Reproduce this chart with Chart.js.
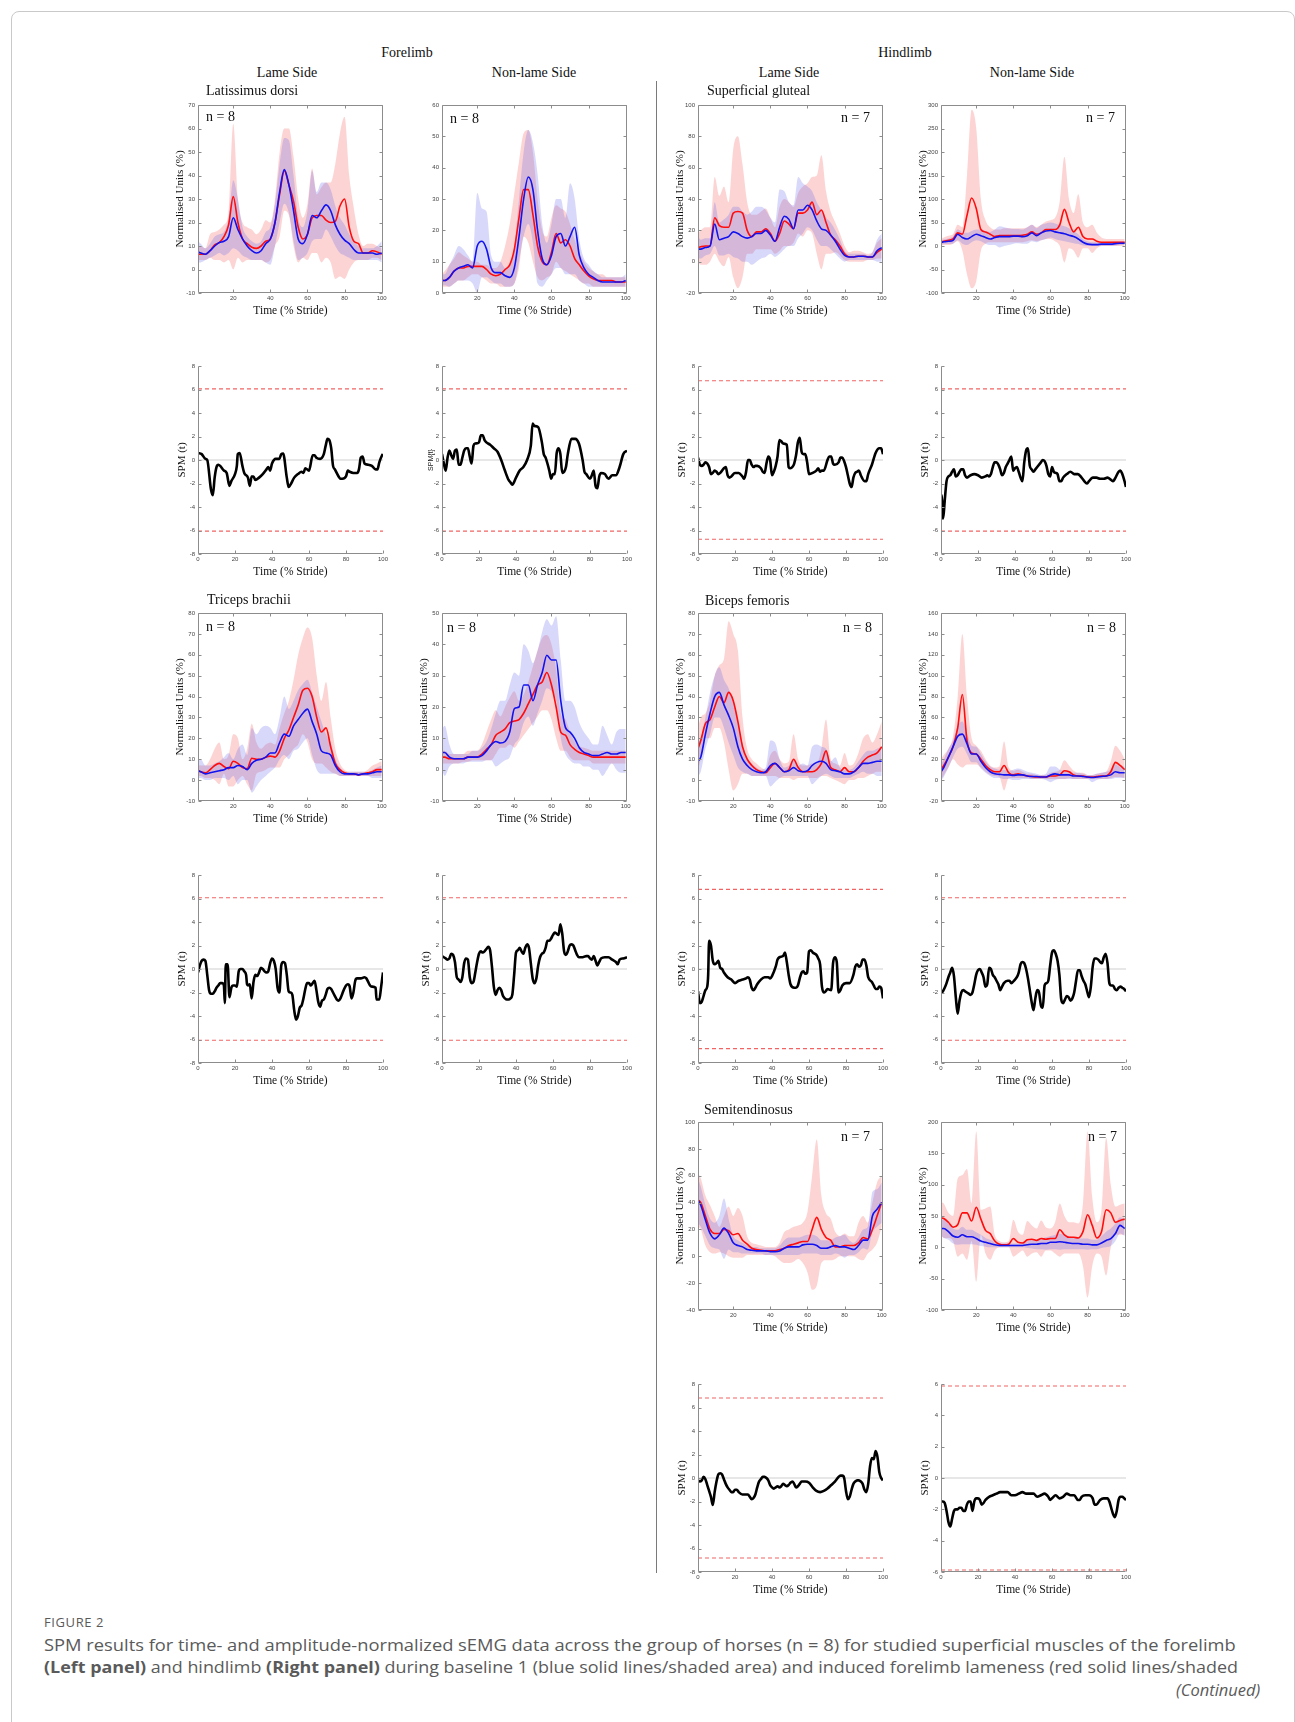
<!DOCTYPE html>
<html>
<head>
<meta charset="utf-8">
<script src="https://cdn.jsdelivr.net/npm/chart.js@4.4.0/dist/chart.umd.min.js"></script>
<style>
body { margin: 0; background: #fff; width: 1295px; height: 1722px; position: relative; overflow: hidden; }
.frame { position: absolute; left: 11px; top: 11px; width: 1282px; height: 1760px; border: 1px solid #c9c9c9; border-radius: 8px; }
canvas { position: absolute; }
.t { position: absolute; white-space: nowrap; font-family: "Liberation Serif", serif; color: #111; font-size: 14px; line-height: 1; }
.divider { position: absolute; left: 656px; top: 81px; width: 1px; height: 1492px; background: #7a7a7a; }
.cap { position: absolute; left: 44px; white-space: nowrap; font-family: "Open Sans", sans-serif; color: #5a5a5a; font-size: 16.5px; line-height: 1; transform-origin: 0 50%; }
</style>
</head>
<body>
<div class="frame"></div>
<div class="divider"></div>
<script>
// shared time axis (% stride) for the sEMG curves
const emgX = [1, 2.5, 5, 7.5, 10, 12.5, 15, 17.5, 20, 22.5, 25, 27.5, 30, 32.5, 35, 37.5, 40, 42.5, 45, 47.5,
  50, 52.5, 55, 57.5, 60, 62.5, 65, 67.5, 70, 72.5, 75, 77.5, 80, 82.5, 85, 87.5, 90, 92.5, 95, 97.5, 100];
const emgXTicks = [20, 40, 60, 80, 100];
const spmXTicks = [0, 20, 40, 60, 80, 100];

// Latissimus dorsi - lame side
const latLameBlue = [7.5,7,6.5,8,10,11.5,12,14,22,17, 13,10,8,7,8,11,13,20,33,42.5, 36,25,13,11,15,23,22,25,27.5,25, 19,15,12.5,11,8.5,7,7,7,7,6.5, 7];
const latLameRed = [6.5,6.5,6.5,8,10.5,11.5,14,19,31,20, 13,11,9.5,9,10,12,13,20,32,42, 36,29,18,13,15,22,23,23,21,20, 20.5,27,30,18,12,11,7,7,8,7.5, 6.5];
const latLameBlueHi = [12,11,9,11,14,15,16,22,38,30, 18,14,12,11,12,16,18,28,45,56, 55,40,22,18,25,42,33,37,37,34, 27,22,19,15,12,10,9,9,9,10, 12];
const latLameBlueLo = [3,3,4,5,6,7,6,7,9,8, 6,5,4,4,4,3,2,10,20,28, 24,12,4,5,7,12,13,13,17,14, 10,7,6,5,4,4,4,4,4,4, 3];
const latLameRedHi = [10,10,9,15,16,17,19,24,62,30, 20,18,17,15,17,21,20,30,50,60, 60,48,30,22,28,43,32,35,37,37, 45,58,65,40,26,15,10,11,11,10, 9];
const latLameRedLo = [4,4,4,5,4,4,3,4,0,5, 3,4,4,4,4,3,4,10,14,25, 23,10,3,5,4,7,7,3,5,3, -4,-3,-4,0,3,4,4,4,5,5, 4];

// Latissimus dorsi - non-lame side
const latNonBlue = [4,4,5,7,8,8.5,9,8,15,16.5, 14,8,6.5,6.5,5.5,5,8,18,30,37, 33,20,11,9,12,18,19,15,18,21, 12,8,6,5,4,3.5,3.5,3.5,3.5,3.5, 4];
const latNonRed = [4,4,5,7,8,8,8.5,8.5,8.5,8.5, 7.5,6,5.5,6,7.5,9,14,24,33,33, 25,15,10,9,13,19,16,17,15,11, 9,7,5.5,4.5,4,4,4,4,3.5,3.5, 3.5];
const latNonBlueHi = [6,6,9,12,15,14,12,10,32,27, 26,12,10,10,8,9,15,30,45,52, 48,38,22,16,22,30,30,24,35,30, 17,11,9,7,6,5,5,5,5,5, 6];
const latNonBlueLo = [2.5,2.5,2,3,4,4,4,3,0,5, 5,4,3,3,2,2,3,10,18,22, 16,3,2,4,6,8,8,6,6,6, 4,3,2,2,2,2,2,2,2,2, 2];
const latNonRedHi = [6,7,9,11,13,12,11,10,10,9, 9,8,8,10,15,22,32,42,51,52, 45,30,20,18,24,28,27,26,22,17, 13,10,8,7,6,6,5,5,5,5, 5];
const latNonRedLo = [2,2,2,3,4,4,5,6,6,5, 4,3,3,2,2,2,3,8,18,16, 10,5,4,5,6,10,8,7,6,5, 4,3,3,2,2,2,2,2,2,2, 2];

// Superficial gluteal - lame side
const glutLameBlue = [8,8,9,10,24,14,15,16,19,18, 16,15,16,18,18,20,17,13,22,29, 27,21,33,33,36,33,26,21,20,17, 13,8,4,3,3,3.5,3.5,3,3,7, 9];
const glutLameRed = [9,9.5,10,10,28,23,22,22,31,32, 31,20,16,19,19,21,18,13,18,26, 24,21,31,31,33,38,30,33,25,17, 14,10,5,3,3,3.5,3.5,3,3,6, 8];
const glutLameBlueHi = [16,14,15,15,38,25,27,30,35,35, 32,30,32,35,35,33,28,25,46,45, 38,36,54,50,48,45,38,33,28,25, 20,14,7,5,5,5,5,4,6,14, 18];
const glutLameBlueLo = [2,2,4,5,10,4,4,5,3,2, 0,0,-2,0,2,3,5,3,5,8, 10,10,15,18,22,20,14,10,10,8, 5,2,0,1,1,1,1,1,1,0, 0];
const glutLameRedHi = [18,20,22,22,54,42,48,38,72,80, 62,38,30,30,32,34,28,22,35,40, 38,35,44,48,50,54,55,68,45,32, 25,18,10,6,7,7,6,5,6,12, 15];
const glutLameRedLo = [0,-2,-2,0,5,0,-3,3,-10,-17, -10,5,5,8,8,8,8,5,7,10, 10,12,18,16,20,18,5,-5,5,5, 6,4,1,0,0,0,0,1,1,2, 2];

// Superficial gluteal - non-lame side
const glutNonBlue = [7,9,10,12,25,18,15,20,25,22, 18,15,18,20,20,20,21,21,20,22, 28,22,28,32,33,30,28,26,23,20, 15,8,4,3,3,4,4,4,5,6, 6];
const glutNonRed = [8,10,12,15,28,25,65,102,80,35, 30,25,20,22,22,22,22,22,23,25, 30,25,28,35,35,35,45,78,50,30, 40,20,15,15,10,8,8,8,8,8, 8];
const glutNonBlueHi = [12,14,16,20,35,30,28,32,35,35, 32,30,35,42,40,38,36,36,35,40, 45,38,45,48,50,48,45,42,38,32, 25,15,10,8,8,8,9,9,10,10, 10];
const glutNonBlueLo = [2,4,4,5,12,5,2,8,12,10, 5,2,2,-3,0,2,5,6,5,5, 10,8,12,15,18,15,12,10,8,6, 4,1,0,0,0,0,0,0,1,2, 2];
const glutNonRedHi = [15,18,22,25,45,40,150,290,250,100, 55,40,35,35,38,38,38,38,38,40, 45,40,45,52,55,60,95,190,100,70, 110,50,40,45,28,18,15,15,15,15, 15];
const glutNonRedLo = [0,2,2,5,10,-10,-60,-90,-75,-10, 5,8,8,8,8,8,8,8,8,10, 12,10,12,15,15,10,0,-35,-5,-10, -25,-5,-5,-15,-5,0,0,0,0,0, 0];

// Triceps brachii - lame side
const triLameBlue = [4.5,4,3,3.5,4,4.5,5,6,6,7, 6.5,5,8,9.5,10,11,13,13,18,22, 21,26,29,32,34,28,22,14,13,12, 7,4,3,3,3,2.5,3,3,3.5,4, 4];
const triLameRed = [4.5,4,3.5,5,7,8,6.5,5.5,9,8, 6,5.5,10.5,10,10,11,11.5,11,14,20, 24,30,36,43,44,40,30,23,25,16, 8,5,3.5,3,3,2.5,3,3.5,4,5, 5];
const triLameBlueHi = [9,10,7,7,8,9,11,13,10,15, 17,12,25,22,25,26,25,22,30,40, 34,38,43,46,48,42,35,28,22,18, 10,6,4,4,4,4,4,4,5,6, 7];
const triLameBlueLo = [1,1,0,0,1,1,1,0,2,-2, 0,0,-6,-3,0,2,4,6,10,12, 10,14,15,18,20,12,5,3,3,3, 3,2,2,2,2,2,2,2,1,1, 1];
const triLameRedHi = [7,7,7,10,15,18,10,12,22,20, 10,15,27,18,15,17,18,17,25,32, 38,48,60,68,73,68,50,38,47,30, 15,8,5,4,4,4,4,5,7,8, 9];
const triLameRedLo = [2,2,1,1,0,-2,3,-3,-3,0, 2,-2,-5,3,4,5,6,6,6,10, 12,15,17,22,18,10,8,8,6,4, 3,2,2,2,2,2,2,2,2,2, 2];

// Triceps brachii - non-lame side
const triNonBlue = [5.5,5.5,4,3.5,3.5,3.5,4,4,4,4.5, 6,8,9,8.5,9,12,19.5,20,27,27, 22,27,31,36.5,35,35,22,13.5,12,10, 7,5.5,5,4.5,4.5,5,5.5,5,5,5.5, 5.5];
const triNonRed = [4,4,3.5,3.5,3.5,3.5,4,4,4,5, 6.5,8,11,12,13,15,15.5,16,18,21, 24,27,28,31,27,20,12,11,8,6.5, 5.5,5,4.5,4,4,4,4,4,4,4, 4];
const triNonBlueHi = [13,14,8,5,5,5,5,6,6,7, 9,13,18,22,22,27,31,30,40,38, 34,38,44,48,46,49,35,22,22,20, 15,12,10,8,8,14,11,8,12,13, 13];
const triNonBlueLo = [0,-2,1,2,2,2,2.5,2.5,2.5,2.5, 3,3,1,2,3,4,8,10,15,17, 14,18,22,26,25,22,10,5,3,2, 2,1,1,0,0,-2,0,2,0,-1, -1];
const triNonRedHi = [6,6,5,5,5,5,6,6,6,8, 12,16,19,17,20,23,25,22,24,28, 33,38,42,43,40,32,18,16,12,9, 7.5,7,6.5,6,6,6,6,6,6,6, 6];
const triNonRedLo = [2,2,2,2,2,2.5,2.5,3,3,3, 3,3,5,7,7,8,7,9,11,13, 15,17,19,19,16,10,6,6,4,3, 3,3,3,2,2,2,2,2,2,2, 2];

// Biceps femoris - lame side
const bicLameBlue = [9,11,22,32,40,42,36,31,25,16, 10,7,5,4,3.5,4,7,8,6,4, 4.5,6,4.5,4,4.5,7,8.5,9,8,5, 4.5,4,3,3,4,6,8,8,8.5,9, 9];
const bicLameRed = [15,19,27,29,35,40,37,42,38,28, 16,10,7,5,4,3.5,6,8,6,4, 5,10,6,4,4,4,5,8,14,6, 5,4,6,4,4,6,9,11,12,13, 16];
const bicLameBlueHi = [18,20,30,42,50,54,48,44,38,28, 17,11,8,6,5,6,19,18,10,6, 7,10,7,8,7,16,17,16,15,9, 11,6,5,5,6,9,12,14,14,15, 16];
const bicLameBlueLo = [2,4,15,22,30,30,25,18,12,6, 4,3,2,2,2,2,-3,-1,1,2, 2,2,2,2,2,-2,0,2,3,2, 1,1,1,1,2,3,4,3,3,2, 2];
const bicLameRedHi = [25,30,32,38,50,55,58,76,70,62, 30,15,10,8,6,5,12,14,10,8, 9,22,10,7,7,8,8,15,29,10, 8,7,13,7,8,13,20,22,18,22, 28];
const bicLameRedLo = [5,10,20,20,25,25,18,5,-5,-2, 3,3,2,2,2,2,2,2,1,1, 1,0,1,1,1,1,1,2,2,1, 0,-1,-2,0,0,1,1,2,3,4, 4];

// Biceps femoris - non-lame side
const bicNonBlue = [8,12,22,32,42,44,35,25,25,18, 12,8,6,5.5,5,5,4.5,5,5,4, 3.5,3.5,3,3,5,6,5,5,5,4, 4,3.5,3,2.5,3,3.5,4,5,8,7, 7];
const bicNonRed = [10,14,22,32,50,82,38,26,25,20, 14,10,8,8,14,7,5,6,5,4, 3.5,3,3,3,4,4,5,9,8,5, 4,4,3,3,3.5,4,4,8,17,14, 10];
const bicNonBlueHi = [15,20,30,38,52,56,45,33,32,25, 18,13,11,10,10,9,10,11,10,8, 7,6,5,6,13,13,10,9,9,7, 7,6,5,5,6,7,8,10,15,13, 13];
const bicNonBlueLo = [0,3,12,22,30,32,25,17,17,11, 7,4,2,2,1,1,0,0,1,1, 1,1,1,0,-2,0,1,1,1,1, 1,1,1,-2,0,1,1,1,2,2, 2];
const bicNonRedHi = [20,24,30,42,80,140,80,40,33,28, 20,14,12,13,37,12,9,10,8,6, 6,5,5,5,7,8,10,19,14,9, 7,7,5,5,6,7,8,18,33,28, 20];
const bicNonRedLo = [0,5,12,20,15,12,15,15,15,12, 8,5,4,3,-10,2,2,2,2,2, 1,1,1,1,1,1,1,1,2,1, 1,1,1,1,1,1,1,2,3,3, 2];

// Semitendinosus - lame side
const semLameBlue = [42,38,27,17,13,16,21,17,10,8, 7,5,4.5,4,4,4,3.5,3.5,4,6, 7,7,7,8.5,9,9,8,6,6,7, 8,7,7,6,5,8,12,12,30,35, 40];
const semLameRed = [42,40,30,20,17,17,20,19,16,17, 12,9,6,5,4.5,4,4,4,5,6, 8,9,10,11,11,20,29,20,14,12, 7,7,8,8,8,10,14,13,20,30, 40];
const semLameBlueHi = [58,52,38,28,25,30,43,28,15,12, 10,8,7,7,6,6,6,6,8,12, 14,14,14,15,16,16,15,12,12,12, 14,15,16,12,10,14,20,22,48,50, 55];
const semLameBlueLo = [25,22,15,8,6,5,-2,5,3,3, 2,2,2,2,2,1,1,1,1,1, 1,1,1,2,2,2,2,1,1,1, 2,1,-1,1,1,3,6,5,18,22, 25];
const semLameRedHi = [62,58,45,38,30,22,30,37,30,36, 30,15,10,9,8,7,7,7,10,18, 20,22,23,25,33,60,87,45,32,28, 18,15,17,15,15,25,30,25,40,55, 60];
const semLameRedLo = [22,20,8,3,2,3,2,0,-1,-1, -1,1,1,1,1,1,1,0,-3,-5, -5,-4,-2,-5,-12,-25,-22,-5,-3,-3, -2,0,0,0,0,-2,-3,2,5,10, 22];

// Semitendinosus - non-lame side
const semNonBlue = [30,30,25,18,16,20,17,17,14,10, 8,6,4,3,3,3,3,3,3,4, 5,5,6,6,8,8,9,8,7,6, 6,5,5,4,4,7,11,14,22,35, 30];
const semNonRed = [47,46,40,32,36,55,55,42,64,45, 27,22,10,5,4,5,14,8,7,12, 13,11,14,13,14,14,28,20,16,16, 15,25,52,35,15,25,60,55,40,43, 45];
const semNonBlueHi = [45,45,38,30,28,33,28,28,24,20, 15,12,9,7,6,6,6,6,7,10, 12,13,14,16,18,20,22,20,18,16, 15,14,14,12,12,18,25,30,38,48, 45];
const semNonBlueLo = [18,15,12,6,4,5,5,5,4,2, 1,0,0,0,0,0,0,0,0,-1, -2,-3,-3,-4,-3,-3,-4,-3,-3,-3, -3,-3,-4,-3,-3,-1,0,2,10,22, 18];
const semNonRedHi = [72,70,55,50,110,115,125,70,185,60, 62,65,20,10,8,10,44,25,20,42, 35,30,43,32,30,40,70,50,40,40, 38,70,185,80,40,60,175,100,65,68, 70];
const semNonRedLo = [20,15,15,10,-15,-10,-20,10,-55,20, -10,-20,-5,0,0,0,-15,-10,-5,-15, -10,-8,-15,-5,-5,-10,-15,-10,-10,-10, -10,-30,-80,-30,-10,-15,-45,0,20,20, 20];

// SPM{t} curves: [time %, t]
const spmLatLame = [[0,0.6],[2,0.5],[4,0.1],[5,0],[7,-2.5],[8,-3],[9,-1.5],[10,-0.6],[11,-0.4],[12,-0.5],[14,-0.9],[15.5,-1.1],[17,-2.2],[18,-1.8],[20,-1.2],[21,-0.5],[21.5,0.5],[22.5,0.6],[24,-0.5],[25,-1.1],[27,-1.5],[28,-2.2],[29,-1.4],[30,-1.4],[31,-1.7],[33,-1.5],[35,-1.2],[37,-0.8],[38,-0.6],[39,-0.9],[40,-0.3],[42,0.1],[44,0.1],[45,0.5],[46,0.55],[48,-1.5],[49,-2.3],[50,-2.1],[52,-1.5],[54,-1.2],[56,-1.0],[57,-1.1],[58,-0.7],[60,-0.9],[62,0.4],[63,0.4],[64,0.2],[66,0.1],[68,0.5],[69,1.2],[70,1.8],[71,1.7],[72,1.0],[73,-0.5],[74,-0.8],[76,-1.4],[77,-1.6],[78,-1.6],[80,-1.4],[81,-0.9],[82,-1],[84,-1.1],[86,-1.1],[87,-0.8],[88,0.2],[89,0.3],[90,-0.3],[92,-0.4],[94,-0.5],[96,-0.8],[97,-0.8],[98,-0.2],[99.5,0.4],[100,0.5]];
const spmLatNon = [[0,0.5],[1,-0.3],[2,-0.9],[3,0.2],[4,0.8],[5,0.4],[6,0.1],[7,0.8],[8,0.9],[9,-0.4],[10,-0.4],[11,0.2],[12,0.8],[13,1.0],[14,1.0],[15,0.3],[16,-0.3],[17,1.2],[18,1.4],[20,1.5],[21,2.1],[22,2.1],[23,1.7],[24,1.5],[26,1.3],[28,1.0],[30,0.7],[32,0],[34,-0.9],[36,-1.7],[37,-1.9],[38,-2.1],[40,-1.5],[42,-0.9],[44,-0.6],[46,0],[48,1.2],[49,3.1],[50,2.9],[52,2.8],[54,1.5],[55,0.5],[56,0.2],[58,-0.9],[59,-1.6],[60,-1.2],[61,-1.2],[62,0.6],[63,1.0],[64,0.5],[65,-1.1],[66,-1.0],[67,-0.6],[68,0.5],[70,1.8],[72,1.8],[74,1.4],[76,0],[77,-1.0],[78,-1.2],[80,-1.6],[81,-1.3],[82,-0.9],[83,-2.2],[84,-2.4],[85,-1.4],[86,-1.1],[88,-1.2],[90,-1.6],[92,-1.3],[94,-1.3],[96,-0.6],[98,0.5],[100,0.8]];
const spmGlutLame = [[0,0.2],[1,-0.4],[2,-0.5],[3,-0.4],[4,-0.2],[5,-0.3],[6,-0.6],[7,-1.2],[8,-1.1],[9,-0.9],[10,-1.0],[11,-1.2],[12,-1.1],[13,-0.9],[14,-0.7],[15,-0.6],[16,-1.3],[17,-1.5],[18,-1.4],[20,-1.1],[22,-1.1],[24,-1.4],[25,-1.6],[26,-1.0],[27,0],[28,0],[29,-0.4],[30,-0.6],[31,-0.5],[32,-0.5],[34,-0.7],[35,-1.0],[36,-1.1],[37,-0.3],[38,0.3],[39,0],[40,-1.3],[41,-1.0],[42,-0.5],[43,0.3],[44,1.7],[45,1.6],[46,1.4],[48,1.3],[49,-0.6],[50,-0.7],[51,-0.6],[52,-0.3],[53,0.4],[54,1.5],[55,1.9],[56,0.7],[57,0.5],[58,0.5],[59,-0.2],[60,-1.2],[62,-1.1],[64,-0.9],[65,-0.7],[66,-1.0],[67,-0.9],[68,-0.9],[70,0],[71,0.3],[72,0.3],[73,-0.3],[74,-0.4],[76,-0.2],[77,0.2],[78,0.2],[79,-0.1],[80,-0.6],[81,-1.3],[82,-2.0],[83,-2.3],[84,-1.5],[85,-1.1],[86,-1.0],[87,-0.9],[88,-1.3],[90,-1.8],[91,-1.8],[92,-1.2],[94,-0.4],[96,0.6],[98,1.0],[99,1.0],[100,0.5]];
const spmGlutNon = [[0,-3.1],[0.5,-3.0],[1,-5.0],[1.5,-4.5],[2,-3.5],[3,-1.8],[4,-1.4],[5,-1.3],[6,-1.0],[7,-0.8],[8,-1.4],[9,-1.3],[10,-1.0],[11,-0.8],[12,-0.8],[13,-1.3],[14,-1.5],[16,-1.3],[18,-1.2],[20,-1.3],[22,-1.5],[24,-1.4],[25,-1.3],[26,-1.4],[27,-1.2],[28,-0.6],[29,-0.2],[30,-0.2],[31,-0.4],[32,-0.8],[33,-1.3],[34,-1.1],[35,-0.6],[36,-0.3],[37,0],[38,0.3],[39,-0.9],[40,-0.7],[41,-0.6],[42,-1.0],[43,-1.5],[44,-1.8],[45,-0.2],[46,0.8],[47,1.0],[48,-0.5],[49,-0.8],[50,-1.0],[51,-0.8],[52,-0.6],[54,-0.2],[55,0],[56,-0.1],[57,-0.5],[58,-1.2],[59,-1.4],[60,-0.6],[61,-1.0],[62,-1.1],[63,-1.2],[64,-1.8],[65,-1.8],[66,-1.5],[68,-1.2],[70,-1.0],[72,-1.2],[74,-1.2],[76,-1.5],[78,-1.9],[79,-2.0],[80,-1.8],[82,-1.5],[84,-1.5],[86,-1.6],[88,-1.6],[90,-1.5],[92,-1.7],[93,-1.8],[94,-1.6],[96,-1.0],[97,-0.9],[98,-1.2],[99,-1.7],[100,-2.3]];
const spmTriLame = [[0,-0.3],[1,0.3],[2,0.7],[3,0.8],[4,0.7],[5,-0.5],[6,-1.8],[7,-2.1],[8,-2.1],[9,-1.9],[10,-1.6],[11,-1.4],[12,-1.2],[13,-1.2],[14,-1.4],[14.5,-2.9],[15,0.4],[16,0.4],[17,-2.4],[18,-1.6],[19,-1.4],[20,-1.4],[21,-1.5],[22,-0.2],[23,0],[24,0],[25,-0.2],[26,-0.5],[26.5,-1.3],[27,-1.4],[28,-1.3],[29,-2.5],[30,-1.1],[31,-0.5],[32,-0.6],[33,-0.3],[34,0.1],[35,0],[36,-0.2],[37,-0.3],[38,-0.2],[39,0.5],[40,0.9],[41,0.7],[42,0],[43,-1.6],[44,-2.0],[45,0.3],[46,0.6],[47,0.5],[48,-0.5],[49,-1.9],[50,-2.0],[51,-2.2],[52,-3.5],[53,-4.3],[54,-4.0],[55,-3.3],[56,-3.1],[57,-2.5],[58,-1.7],[59,-1.2],[60,-1.2],[61,-1.4],[62,-1.2],[63,-1.0],[64,-1.8],[65,-2.8],[66,-3.2],[67,-2.7],[68,-2.6],[69,-2.2],[70,-1.7],[71,-1.6],[72,-1.7],[73,-2.0],[74,-2.3],[75,-2.6],[76,-2.7],[77,-2.5],[78,-2.1],[79,-1.7],[80,-1.4],[81,-1.3],[82,-1.5],[83,-2.5],[84,-2.0],[85,-1.0],[86,-0.8],[88,-0.8],[90,-0.7],[91,-0.8],[92,-1.1],[93,-1.4],[94,-1.5],[96,-1.6],[96.5,-2.6],[98,-2.6],[99,-1.5],[100,-0.3]];
const spmTriNon = [[0,1.1],[2,0.9],[3,0.8],[4,0.9],[5,1.3],[6,1.2],[7,0.6],[8,-0.7],[9,-0.9],[10,-1.1],[11,-0.7],[12,0.5],[13,0.9],[14,0.8],[15,-0.7],[16,-1.2],[17,-1.1],[18,-0.3],[19,0.6],[20,1.3],[21,1.5],[22,1.4],[23,1.5],[24,1.7],[25,1.9],[26,1.6],[27,0.2],[28,-1.5],[29,-2.2],[30,-1.8],[31,-1.6],[32,-1.8],[33,-2.3],[34,-2.5],[35,-2.6],[36,-2.6],[37,-2.5],[38,-2.2],[39,-0.5],[40,1.4],[41,1.6],[42,1.8],[43,1.5],[44,1.3],[45,1.8],[46,2.1],[47,1.8],[48,0.5],[49,-0.8],[50,-1.2],[51,-0.8],[52,0.3],[53,1.0],[54,1.3],[55,1.4],[56,1.8],[57,2.4],[58,2.4],[59,2.6],[60,2.9],[61,3.1],[62,3.0],[63,2.9],[64,3.8],[65,3.0],[66,1.5],[67,1.2],[68,1.5],[69,2.0],[70,2.1],[71,2.0],[72,1.6],[73,1.2],[74,1.0],[76,1.0],[78,1.1],[79,1.1],[80,0.9],[81,0.8],[82,1.1],[83,0.7],[84,0.3],[85,0.6],[86,0.9],[88,1.0],[90,1.0],[92,0.8],[94,0.6],[95,0.4],[96,0.8],[98,0.9],[100,1.0]];
const spmBicLame = [[0,-1.9],[1,-2.9],[2,-2.8],[3,-2.3],[4,-1.8],[5,-1.5],[5.5,-0.5],[6,2.4],[7,2.0],[8,0.7],[9,0.4],[10,0.5],[11,0.7],[12,0.1],[13,0],[14,-0.3],[16,-0.7],[18,-0.9],[20,-1.2],[22,-1.0],[24,-0.9],[26,-0.8],[27,-0.7],[28,-0.9],[29,-1.6],[30,-1.8],[31,-1.6],[32,-1.3],[34,-0.9],[36,-0.7],[38,-0.7],[39,-0.8],[40,-0.6],[42,0.2],[43,0.8],[44,1.0],[46,1.1],[47,1.4],[48,0.6],[49,-0.5],[50,-1.3],[52,-1.6],[53,-1.6],[54,-1.4],[55,-0.8],[56,-0.3],[57,-0.2],[58,-0.4],[59,-0.3],[60,1.5],[61,1.6],[62,1.4],[64,1.2],[65,0.9],[66,0.4],[67,-1.5],[68,-2.0],[69,-1.9],[70,-1.7],[72,-1.8],[73,0.5],[74,1.0],[75,0.6],[76,-2.0],[77,-1.8],[78,-1.4],[80,-1.2],[82,-1.2],[84,-0.5],[85,0.2],[86,0.4],[87,0.2],[88,0.3],[89,0.8],[90,0.8],[91,0.3],[92,-0.7],[94,-1.1],[95,-1.4],[96,-1.7],[97,-1.7],[98,-1.5],[99,-1.6],[100,-2.5]];
const spmBicNon = [[0,-2.0],[1,-1.9],[2,-1.6],[3,-1.2],[4,-0.7],[5,-0.3],[6,0.1],[7,-0.6],[8,-2.4],[9,-3.8],[10,-2.7],[11,-2.0],[12,-1.8],[13,-1.9],[14,-2.0],[15,-2.1],[16,-2.2],[17,-2.0],[18,-1.3],[19,-0.5],[20,-0.1],[21,0],[22,-0.3],[23,-0.7],[24,-1.5],[25,-1.3],[26,0.1],[27,0],[28,-0.5],[29,-0.7],[30,-1.0],[31,-1.3],[32,-1.8],[33,-1.5],[34,-1.2],[36,-1.0],[37,-1.0],[38,-1.2],[40,-0.9],[41,-0.7],[42,-0.3],[43,0.4],[44,0.6],[45,0.5],[46,0],[47,-0.8],[48,-1.8],[49,-2.8],[50,-3.5],[51,-2.5],[52,-1.8],[53,-2.0],[54,-3.1],[55,-3.3],[56,-1.4],[57,-1.2],[58,-1.0],[59,0.3],[60,1.4],[61,1.6],[62,1.3],[63,0.7],[64,-0.5],[65,-2.6],[66,-2.9],[67,-2.6],[68,-2.3],[69,-2.4],[70,-2.7],[71,-2.5],[72,-2.0],[73,-1.0],[74,-0.1],[75,-0.1],[76,-0.6],[77,-1.0],[78,-1.3],[79,-1.9],[80,-2.4],[81,-1.5],[82,0.2],[83,0.9],[84,0.9],[85,0.8],[86,0.6],[87,0.5],[88,1.0],[89,1.3],[90,0.5],[91,-1.2],[92,-1.4],[93,-1.4],[94,-1.7],[95,-1.8],[96,-1.6],[97,-1.5],[98,-1.6],[99,-1.7],[100,-1.9]];
const spmSemLame = [[0,-0.2],[1,-0.3],[2,-0.2],[3,0.1],[4,-0.1],[5,-0.6],[6,-1.1],[7,-1.6],[8,-2.3],[9,-1.2],[10,-0.3],[11,0.3],[12,0.4],[13,0.3],[14,-0.1],[15,-0.5],[16,-0.8],[17,-1.0],[18,-1.2],[19,-1.2],[20,-1.0],[21,-1.0],[22,-1.2],[24,-1.4],[26,-1.4],[27,-1.4],[28,-1.6],[29,-1.8],[30,-1.7],[31,-1.4],[32,-0.8],[33,-0.3],[34,-0.1],[35,0.1],[36,0.1],[37,0],[38,-0.2],[39,-0.6],[40,-0.8],[41,-0.9],[42,-0.8],[43,-0.7],[44,-0.8],[45,-0.7],[46,-0.5],[47,-0.6],[48,-0.7],[49,-0.6],[50,-0.4],[51,-0.3],[52,-0.5],[53,-0.8],[54,-0.7],[55,-0.5],[56,-0.3],[58,-0.3],[60,-0.4],[62,-0.8],[64,-1.1],[66,-1.2],[68,-1.1],[70,-0.9],[72,-0.6],[74,-0.3],[76,0.1],[77,0.2],[78,0.2],[79,0],[80,-1.1],[81,-1.8],[82,-1.6],[83,-1.0],[84,-0.5],[85,-0.3],[86,-0.2],[87,-0.2],[88,-0.3],[89,-0.5],[90,-1.0],[91,-1.2],[92,-0.5],[93,1.0],[94,1.7],[95,1.6],[96,2.3],[97,1.8],[98,0.5],[99,0],[100,-0.2]];
const spmSemNon = [[0,-1.5],[1,-1.5],[2,-1.6],[3,-2.1],[4,-2.8],[5,-3.1],[6,-2.6],[7,-2.1],[8,-2.0],[9,-2.0],[10,-1.9],[11,-1.9],[12,-2.1],[13,-2.1],[14,-1.7],[15,-1.5],[16,-1.5],[17,-2.1],[18,-1.5],[19,-1.3],[20,-1.3],[21,-1.4],[22,-1.7],[23,-1.6],[24,-1.4],[25,-1.3],[26,-1.2],[28,-1.1],[30,-1.0],[32,-0.9],[34,-0.9],[36,-0.9],[38,-1.1],[40,-1.1],[42,-1.0],[44,-0.9],[46,-1.0],[48,-1.0],[50,-1.0],[52,-1.2],[54,-1.1],[56,-1.0],[58,-1.2],[59,-1.4],[60,-1.3],[62,-1.1],[64,-1.3],[66,-1.2],[68,-1.0],[70,-1.1],[72,-1.1],[74,-1.4],[75,-1.4],[76,-1.2],[78,-1.1],[80,-1.1],[82,-1.3],[83,-1.7],[84,-1.7],[86,-1.4],[88,-1.3],[90,-1.3],[91,-1.5],[92,-1.9],[93,-2.3],[94,-2.5],[95,-2.1],[96,-1.4],[97,-1.2],[98,-1.2],[99,-1.3],[100,-1.4]];

// critical t thresholds (alpha = 0.05), same order as spmPanels
const spmThresholds = [6.05, 6.05, 6.75, 6.05, 6.07, 6.07, 6.78, 6.07, 6.81, 5.87];

// ---------- layout ----------
const colLeft = [198, 442, 698, 941];
const rowTop = [105, 366, 613, 875, 1122, 1384];
const PLOT_W = 185, PLOT_H = 188;
const PAD_L = 40, PAD_R = 8, PAD_T = 8, PAD_B = 32;

const emgPanels = [
  { col: 0, row: 0, y: [-10, 70, 10], yTitle: true, s: [latLameBlue, latLameRed, latLameBlueHi, latLameBlueLo, latLameRedHi, latLameRedLo] },
  { col: 1, row: 0, y: [0, 60, 10], yTitle: false, s: [latNonBlue, latNonRed, latNonBlueHi, latNonBlueLo, latNonRedHi, latNonRedLo] },
  { col: 2, row: 0, y: [-20, 100, 20], yTitle: true, s: [glutLameBlue, glutLameRed, glutLameBlueHi, glutLameBlueLo, glutLameRedHi, glutLameRedLo] },
  { col: 3, row: 0, y: [-100, 300, 50], yTitle: true, s: [glutNonBlue, glutNonRed, glutNonBlueHi, glutNonBlueLo, glutNonRedHi, glutNonRedLo] },
  { col: 0, row: 2, y: [-10, 80, 10], yTitle: true, s: [triLameBlue, triLameRed, triLameBlueHi, triLameBlueLo, triLameRedHi, triLameRedLo] },
  { col: 1, row: 2, y: [-10, 50, 10], yTitle: true, s: [triNonBlue, triNonRed, triNonBlueHi, triNonBlueLo, triNonRedHi, triNonRedLo] },
  { col: 2, row: 2, y: [-10, 80, 10], yTitle: true, s: [bicLameBlue, bicLameRed, bicLameBlueHi, bicLameBlueLo, bicLameRedHi, bicLameRedLo] },
  { col: 3, row: 2, y: [-20, 160, 20], yTitle: true, s: [bicNonBlue, bicNonRed, bicNonBlueHi, bicNonBlueLo, bicNonRedHi, bicNonRedLo] },
  { col: 2, row: 4, y: [-40, 100, 20], yTitle: true, s: [semLameBlue, semLameRed, semLameBlueHi, semLameBlueLo, semLameRedHi, semLameRedLo] },
  { col: 3, row: 4, y: [-100, 200, 50], yTitle: true, s: [semNonBlue, semNonRed, semNonBlueHi, semNonBlueLo, semNonRedHi, semNonRedLo] }
];

const spmPanels = [
  { col: 0, row: 1, line: spmLatLame, y: [-8, 8] },
  { col: 1, row: 1, line: spmLatNon, y: [-8, 8], smallTitle: true },
  { col: 2, row: 1, line: spmGlutLame, y: [-8, 8] },
  { col: 3, row: 1, line: spmGlutNon, y: [-8, 8] },
  { col: 0, row: 3, line: spmTriLame, y: [-8, 8] },
  { col: 1, row: 3, line: spmTriNon, y: [-8, 8] },
  { col: 2, row: 3, line: spmBicLame, y: [-8, 8] },
  { col: 3, row: 3, line: spmBicNon, y: [-8, 8] },
  { col: 2, row: 5, line: spmSemLame, y: [-8, 8] },
  { col: 3, row: 5, line: spmSemNon, y: [-6, 6] }
];

Chart.defaults.font.family = '"Liberation Sans", Arial, sans-serif';
Chart.defaults.animation = false;
Chart.defaults.plugins.legend.display = false;
Chart.defaults.plugins.tooltip.enabled = false;

// MATLAB-like axes: grey frame with short inward tick marks
const axesFrame = {
  id: 'axesFrame',
  afterDraw(chart, args, opts) {
    const { ctx, chartArea: a, scales: { x, y } } = chart;
    ctx.save();
    ctx.strokeStyle = '#8c8c8c';
    ctx.lineWidth = 1;
    ctx.beginPath();
    const L = Math.round(a.left) + 0.5, R = Math.round(a.right) - 0.5;
    const T = Math.round(a.top) + 0.5, B = Math.round(a.bottom) - 0.5;
    if (opts.box) {
      ctx.rect(L, T, R - L, B - T);
    } else {
      ctx.moveTo(L, T); ctx.lineTo(L, B); ctx.lineTo(R, B);
    }
    x.ticks.forEach(t => {
      const px = Math.round(x.getPixelForValue(t.value)) + 0.5;
      ctx.moveTo(px, B); ctx.lineTo(px, B - 3);
      if (opts.box) { ctx.moveTo(px, T); ctx.lineTo(px, T + 3); }
    });
    y.ticks.forEach(t => {
      const py = Math.round(y.getPixelForValue(t.value)) + 0.5;
      ctx.moveTo(L, py); ctx.lineTo(L + 3, py);
      if (opts.box) { ctx.moveTo(R, py); ctx.lineTo(R - 3, py); }
    });
    ctx.stroke();
    ctx.restore();
  }
};

function makeCanvas(col, row) {
  const cv = document.createElement('canvas');
  cv.width = PLOT_W + PAD_L + PAD_R;
  cv.height = PLOT_H + PAD_T + PAD_B;
  cv.style.left = (colLeft[col] - PAD_L) + 'px';
  cv.style.top = (rowTop[row] - PAD_T) + 'px';
  document.body.appendChild(cv);
  return cv;
}

function xScale(min, max, tickVals) {
  return {
    type: 'linear', min: min, max: max,
    afterBuildTicks: s => { s.ticks = tickVals.map(v => ({ value: v })); },
    ticks: { font: { size: 6 }, color: '#444', padding: 2, maxRotation: 0, autoSkip: false },
    grid: { display: false, drawTicks: false },
    border: { display: false },
    title: { display: true, text: 'Time (% Stride)', color: '#111',
      font: { family: '"Liberation Serif", serif', size: 11.5, lineHeight: 1 }, padding: { top: 0, bottom: 8 } },
    afterFit: s => { s.height = PAD_B; }
  };
}

function yScale(min, max, step, title) {
  return {
    min: min, max: max,
    afterBuildTicks: s => { s.ticks = s.ticks.filter(t => Math.abs(t.value % step) < 1e-9); },
    ticks: { stepSize: step, font: { size: 6 }, color: '#444', padding: 3, autoSkip: false },
    grid: { display: false, drawTicks: false },
    border: { display: false },
    title: title,
    afterFit: s => { s.width = PAD_L; }
  };
}

const pts = arr => emgX.map((x, i) => ({ x: x, y: arr[i] }));
const curve = (arr, color) => ({ data: pts(arr), borderColor: color, borderWidth: 1.6, pointRadius: 0, fill: false, cubicInterpolationMode: 'monotone' });
const band = (arr, color, target) => ({ data: pts(arr), borderColor: 'rgba(0,0,0,0)', borderWidth: 1, backgroundColor: color, pointRadius: 0, fill: target, cubicInterpolationMode: 'monotone' });
const edge = arr => ({ data: pts(arr), borderColor: 'rgba(0,0,0,0)', borderWidth: 1, pointRadius: 0, fill: false, cubicInterpolationMode: 'monotone' });

emgPanels.forEach(p => {
  const [blue, red, blueHi, blueLo, redHi, redLo] = p.s;
  new Chart(makeCanvas(p.col, p.row), {
    type: 'line',
    data: {
      datasets: [
        curve(blue, '#1212ee'),
        curve(red, '#ff0d0d'),
        band(blueHi, 'rgba(90,90,240,0.24)', 3),
        edge(blueLo),
        band(redHi, 'rgba(245,90,90,0.26)', 5),
        edge(redLo)
      ]
    },
    options: {
      responsive: false,
      layout: { padding: { top: PAD_T, right: PAD_R, left: 0, bottom: 0 } },
      scales: {
        x: xScale(1, 100.7, emgXTicks),
        y: yScale(p.y[0], p.y[1], p.y[2], {
          display: p.yTitle, text: 'Normalised Units (%)', color: '#111',
          font: { family: '"Liberation Serif", serif', size: 11, lineHeight: 1 }, padding: { top: 16.5, bottom: 0 }
        })
      },
      plugins: { axesFrame: { box: true } }
    },
    plugins: [axesFrame]
  });
});

spmPanels.forEach((p, i) => {
  const thr = spmThresholds[i];
  const title = p.smallTitle
    ? { display: true, text: 'SPM{t}', color: '#222', font: { size: 7, lineHeight: 1 }, padding: { top: 25.5, bottom: 0 } }
    : { display: true, text: 'SPM (t)', color: '#111', font: { family: '"Liberation Serif", serif', size: 11, lineHeight: 1 }, padding: { top: 18.5, bottom: 0 } };
  const flat = v => [{ x: 0, y: v }, { x: 100, y: v }];
  new Chart(makeCanvas(p.col, p.row), {
    type: 'line',
    data: {
      datasets: [
        { data: p.line.map(([x, y]) => ({ x: x, y: y })), borderColor: '#000', borderWidth: 2.6, pointRadius: 0, cubicInterpolationMode: 'monotone' },
        { data: flat(thr), borderColor: '#f26464', borderWidth: 1.1, borderDash: [4, 3], pointRadius: 0 },
        { data: flat(-thr), borderColor: '#f26464', borderWidth: 1.1, borderDash: [4, 3], pointRadius: 0 },
        { data: flat(0), borderColor: '#cfcfcf', borderWidth: 1, pointRadius: 0 }
      ]
    },
    options: {
      responsive: false,
      layout: { padding: { top: PAD_T, right: PAD_R, left: 0, bottom: 0 } },
      scales: {
        x: xScale(0, 100, spmXTicks),
        y: yScale(p.y[0], p.y[1], 2, title)
      },
      plugins: { axesFrame: { box: false } }
    },
    plugins: [axesFrame]
  });
});

// ---------- text ----------
const texts = [
  ['Forelimb', 407, 53, 'c'], ['Hindlimb', 905, 53, 'c'],
  ['Lame Side', 287, 73, 'c'], ['Non-lame Side', 534, 73, 'c'],
  ['Lame Side', 789, 73, 'c'], ['Non-lame Side', 1032, 73, 'c'],
  ['Latissimus dorsi', 206, 91, 'l'], ['Superficial gluteal', 707, 91, 'l'],
  ['Triceps brachii', 207, 600, 'l'], ['Biceps femoris', 705, 601, 'l'],
  ['Semitendinosus', 704, 1110, 'l'],
  ['n = 8', 206, 117, 'l'], ['n = 8', 450, 119, 'l'], ['n = 7', 841, 118, 'l'], ['n = 7', 1086, 118, 'l'],
  ['n = 8', 206, 627, 'l'], ['n = 8', 447, 628, 'l'], ['n = 8', 843, 628, 'l'], ['n = 8', 1087, 628, 'l'],
  ['n = 7', 841, 1137, 'l'], ['n = 7', 1088, 1137, 'l']
];
texts.forEach(([txt, x, y, al]) => {
  const d = document.createElement('div');
  d.className = 't';
  d.textContent = txt;
  d.style.left = x + 'px';
  d.style.top = y + 'px';
  d.style.transform = al === 'c' ? 'translate(-50%,-50%)' : 'translateY(-50%)';
  document.body.appendChild(d);
});

// ---------- caption ----------
const capLines = [
  { html: 'FIGURE 2', y: 1622, size: 13, spacing: '0.6px' },
  { html: 'SPM results for time- and amplitude-normalized sEMG data across the group of horses (n = 8) for studied superficial muscles of the forelimb', y: 1645, fit: 1192 },
  { html: '<b>(Left panel)</b> and hindlimb <b>(Right panel)</b> during baseline 1 (blue solid lines/shaded area) and induced forelimb lameness (red solid lines/shaded', y: 1667, fit: 1194 },
  { html: '<i>(Continued)</i>', y: 1690, right: 1260 }
];
capLines.forEach(c => {
  const d = document.createElement('div');
  d.className = 'cap';
  d.innerHTML = c.html;
  d.style.top = (c.y - 8) + 'px';
  if (c.size) { d.style.fontSize = c.size + 'px'; d.style.letterSpacing = c.spacing; d.style.top = (c.y - 6.5) + 'px'; }
  document.body.appendChild(d);
  if (c.fit) d.style.transform = 'scaleX(' + (c.fit / d.offsetWidth) + ')';
  if (c.right) { d.style.left = (c.right - d.offsetWidth) + 'px'; }
});
</script>
</body>
</html>
